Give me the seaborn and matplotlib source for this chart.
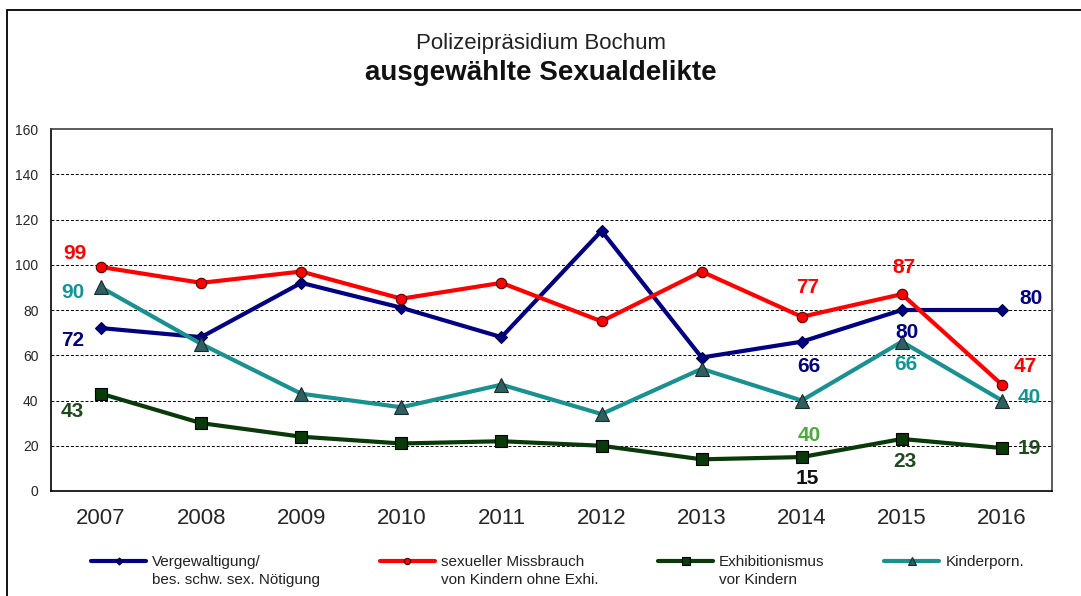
import pandas as pd
import matplotlib.pyplot as plt
from matplotlib.patches import Rectangle
from matplotlib.legend_handler import HandlerLine2D
import seaborn as sns

# values
years = ['2007', '2008', '2009', '2010', '2011', '2012', '2013', '2014', '2015', '2016']
vergewaltigung = [72, 68, 92, 81, 68, 115, 59, 66, 80, 80]
missbrauch = [99, 92, 97, 85, 92, 75, 97, 77, 87, 47]
exhibitionismus = [43, 30, 24, 21, 22, 20, 14, 15, 23, 19]
kinderporno = [90, 65, 43, 37, 47, 34, 54, 40, 66, 40]

legend_labels = ['Vergewaltigung/\nbes. schw. sex. Nötigung',
                 'sexueller Missbrauch\nvon Kindern ohne Exhi.',
                 'Exhibitionismus\nvor Kindern',
                 'Kinderporn.\n ']

# (series index, year index, text colour, offset in px)
point_labels = [
    (1, 0, '#ff0000', (-26, 14)),
    (3, 0, '#149494', (-28, -5)),
    (0, 0, '#000080', (-28, -12)),
    (2, 0, '#1f4a1f', (-29, -18)),
    (1, 7, '#ff0000', (6, 29)),
    (0, 7, '#000080', (7, -25)),
    (3, 7, '#4aaa3c', (7, -35)),
    (2, 7, '#111111', (6, -21)),
    (1, 8, '#ff0000', (2, 27)),
    (0, 8, '#000080', (5, -22)),
    (3, 8, '#149494', (4, -23)),
    (2, 8, '#1f4a1f', (3, -23)),
    (0, 9, '#000080', (29, 11)),
    (1, 9, '#ff0000', (23, 18)),
    (3, 9, '#149494', (27, 3)),
    (2, 9, '#1f4a1f', (27, 0)),
]


class TopLineHandler(HandlerLine2D):
    # put the legend line level with the first text row, like the original
    def create_artists(self, legend, orig_handle, xdescent, ydescent, width, height, fontsize, trans):
        return super().create_artists(legend, orig_handle, xdescent, ydescent - 15,
                                      width, height, fontsize, trans)


if __name__ == '__main__':
    sns.set_style('white')
    plt.rcParams['font.family'] = ['Liberation Sans', 'DejaVu Sans']

    fig = plt.figure(figsize=(10.81, 5.96), dpi=100)
    ax = fig.add_axes([51 / 1081, 1 - 491 / 596, 1001 / 1081, 362 / 596])

    series = [vergewaltigung, missbrauch, exhibitionismus, kinderporno]
    styles = [
        dict(color='#000080', marker='D', markersize=6, markerfacecolor='#000080', markeredgecolor='#000040'),
        dict(color='#ff0000', marker='o', markersize=7.5, markerfacecolor='#ff0000', markeredgecolor='#550000'),
        dict(color='#0a3a0a', marker='s', markersize=8.5, markerfacecolor='#0a3a0a', markeredgecolor='#000000'),
        dict(color='#1a9090', marker='^', markersize=10, markerfacecolor='#2f5f5f', markeredgecolor='#1a2a2a'),
    ]
    for vals, lab, st in zip(series, legend_labels, styles):
        df = pd.DataFrame({'Jahr': years, 'Anzahl': vals})
        sns.lineplot(data=df, x='Jahr', y='Anzahl', ax=ax, label=lab, linewidth=3,
                     markeredgewidth=0.8, **st)

    ax.set_xlim(-0.5, len(years) - 0.5)
    ax.set_ylim(0, 160)
    ax.set_yticks(range(0, 161, 20))
    ax.set_xticks(range(len(years)))
    ax.set_xticklabels(years, fontsize=16)
    ax.set_xticks([i - 0.5 for i in range(len(years) + 1)], minor=True)
    ax.tick_params(axis='x', which='major', length=0, pad=12)
    ax.tick_params(axis='x', which='minor', length=7, width=1, color='black', direction='out')
    ax.tick_params(axis='y', length=5, width=1, color='black', direction='out', labelsize=10, pad=4)
    ax.set_xlabel('')
    ax.set_ylabel('')
    for yv in range(20, 160, 20):
        ax.axhline(yv, color='black', lw=0.7, ls=(0, (3, 2)), zorder=0)
    for s in ['left', 'bottom']:
        ax.spines[s].set_color('black')
        ax.spines[s].set_linewidth(1.2)
    for s in ['top', 'right']:
        ax.spines[s].set_color('#404040')
        ax.spines[s].set_linewidth(1.2)

    for si, yi, col, (dx, dy) in point_labels:
        v = series[si][yi]
        bbox = None
        if col == '#4aaa3c':
            bbox = dict(facecolor='white', edgecolor='none', pad=1)
        ax.annotate(str(v), xy=(yi, v), xytext=(dx * 0.72, dy * 0.72), textcoords='offset points',
                    ha='center', va='center', fontsize=15, fontweight='bold', color=col, bbox=bbox)

    handles, labels = ax.get_legend_handles_labels()
    ax.legend_.remove()
    leg = fig.legend(handles, labels, loc='center left', bbox_to_anchor=(85 / 1081, 1 - 571 / 596),
                     ncol=4, frameon=False, fontsize=11, handlelength=3.6, handletextpad=0.4,
                     columnspacing=3.9, borderaxespad=0, markerscale=0.6,
                     handler_map={h: TopLineHandler() for h in handles})
    for t in leg.get_texts():
        t.set_linespacing(1.4)
        t.set_color('#222222')

    fig.text(0.5, 1 - 43 / 596, 'Polizeipräsidium Bochum', ha='center', va='center',
             fontsize=16, color='#222222')
    fig.text(0.5, 1 - 73 / 596, 'ausgewählte Sexualdelikte', ha='center', va='center',
             fontsize=20, fontweight='bold', color='#111111')

    fig.patches.append(Rectangle((7 / 1081, -0.2), 1.2, 1.2 - 10 / 596,
                                 transform=fig.transFigure, fill=False, edgecolor='black',
                                 linewidth=1.3, figure=fig))

    fig.savefig('out.png', dpi=100)
